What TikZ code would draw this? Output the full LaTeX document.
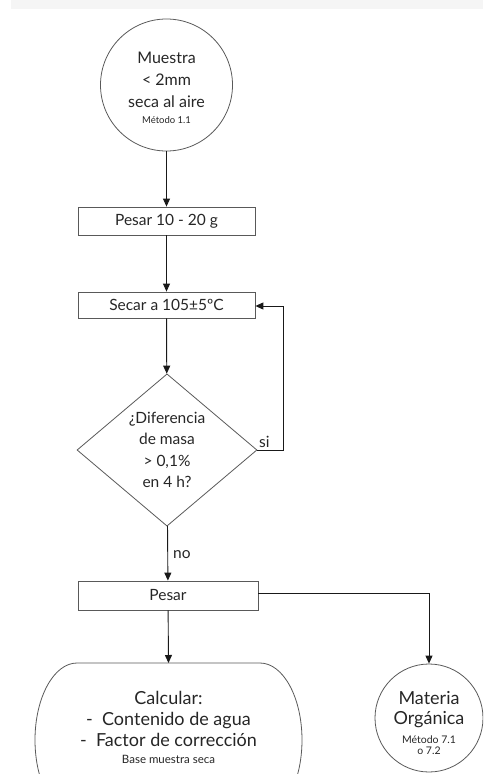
\documentclass[tikz,border=0pt]{standalone}
\usepackage{fontspec}
\setmainfont{Lato}
\usetikzlibrary{shapes.geometric,arrows.meta}
\begin{document}
\begin{tikzpicture}[x=1pt,y=-1pt,
  shapeline/.style={draw=black!65,line width=0.8pt},
  boxnode/.style={shapeline,rectangle,minimum width=177pt,inner sep=0pt,text=black!85,font=\fontsize{15.5}{18}\selectfont},
  circnode/.style={shapeline,circle,inner sep=0pt,align=center,text=black!85},
  txtnode/.style={align=center,text=black!85,inner sep=0pt},
  conn/.style={draw=black!90,line width=0.9pt,-{Triangle[length=8pt,width=7pt]}},
  lbl/.style={text=black!85,font=\fontsize{15.5}{18}\selectfont,inner sep=0pt}]
\useasboundingbox (0,0) rectangle (483,774);
\clip (0,0) rectangle (483,774);
\fill[black!4] (11,0) rectangle (483,9);

\node[circnode,minimum size=132pt] (m1) at (166.5,85) {};
\node[txtnode,font=\fontsize{16}{22}\selectfont] (m1t) at (166.5,88)
  {Muestra\\ < 2mm\\ seca al aire\\[-6pt] {\fontsize{9.5}{11}\selectfont Método 1.1}};
\node[boxnode,minimum height=28pt] (p1) at (166.5,221) {Pesar 10 - 20 g};
\node[boxnode,minimum height=26pt] (s1) at (166.5,305) {Secar a 105±5ºC};
\node[shapeline,diamond,minimum width=180pt,minimum height=145pt,inner sep=0pt,
  align=center,text=black!85,font=\fontsize{15.5}{21.5}\selectfont] (d1) at (167,450)
  {¿Diferencia\\de masa\\> 0,1\%\\en 4 h?};
\node[boxnode,minimum width=180pt,minimum height=29pt] (p2) at (168,595.5) {Pesar};
\node[txtnode,font=\fontsize{18}{21}\selectfont] (c1) at (168.5,727)
  {Calcular:\\
   - \ Contenido de agua\\
   - \ Factor de corrección\\[-4pt]
   {\fontsize{11.5}{13}\selectfont Base muestra seca}};
\draw[shapeline] (77,663) -- (260,663)
  arc[start angle=90,end angle=-90,x radius=42,y radius=-77]
  -- (77,817)
  arc[start angle=270,end angle=90,x radius=42,y radius=-77] -- cycle;
\coordinate (c1top) at (168.5,663);
\node[circnode,minimum size=108pt] (m2) at (429,718) {};
\node[txtnode,font=\fontsize{18}{20}\selectfont] (m2t) at (429,725)
  {Materia\\ Orgánica\\[-1pt]
   {\fontsize{10.5}{11}\selectfont\begin{tabular}[t]{@{}c@{}}Método 7.1\\o 7.2\end{tabular}}};

\coordinate (r1) at (283,450);
\coordinate (r2) at (283,306);
\coordinate (k1) at (429,593);

\draw[conn] (m1) -- (p1);
\draw[conn] (p1) -- (s1);
\draw[conn] (s1) -- (d1);
\draw[conn] (d1) -- (p2);
\draw[conn] (d1.east) -- (r1) -- (r2) -- (s1.east |- r2);
\draw[conn] (p2.east |- k1) -- (k1) -- (m2);
\draw[conn] (p2) -- (c1top);

\node[lbl,anchor=base west] (si) at (259,447) {si};
\node[lbl,anchor=base west] (no) at (173,558) {no};
\end{tikzpicture}
\end{document}
